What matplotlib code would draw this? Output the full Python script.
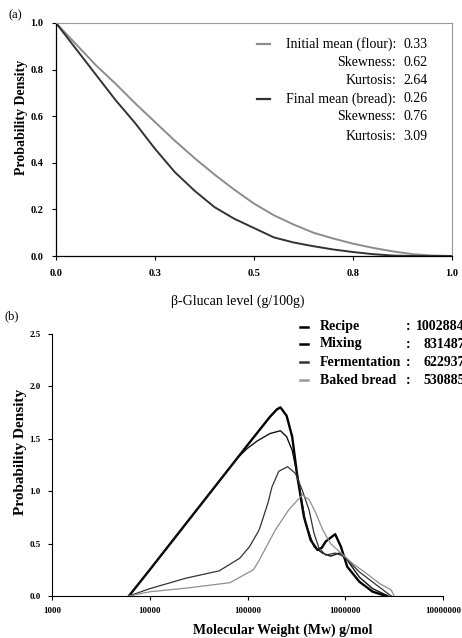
import matplotlib
matplotlib.use("Agg")
import matplotlib.pyplot as plt
from matplotlib.lines import Line2D

plt.rcParams["font.family"] = ["Liberation Serif", "DejaVu Serif"]

# ---- panel (a): beta-glucan level distributions
glucan_x = [0, 0.05, 0.1, 0.15, 0.2, 0.25, 0.3, 0.35, 0.4, 0.45, 0.5,
            0.55, 0.6, 0.65, 0.7, 0.75, 0.8, 0.85, 0.9, 0.95, 1.0]
flour_pd = [1.0, 0.91, 0.82, 0.74, 0.655, 0.575, 0.495, 0.42, 0.35, 0.285, 0.225,
            0.175, 0.135, 0.10, 0.075, 0.053, 0.035, 0.02, 0.008, 0.002, 0.0]
bread_pd = [1.0, 0.89, 0.78, 0.67, 0.57, 0.46, 0.36, 0.28, 0.21, 0.16, 0.12,
            0.08, 0.058, 0.042, 0.028, 0.017, 0.008, 0.002, 0.0, 0.0, 0.0]
glucan_ticks = [0, 0.25, 0.5, 0.75, 1.0]
glucan_ticklabels = ["0.0", "0.3", "0.5", "0.8", "1.0"]
stats_labels = ["Initial mean (flour):", "Skewness:", "Kurtosis:",
                "Final mean (bread):", "Skewness:", "Kurtosis:"]
stats_values = ["0.33", "0.62", "2.64", "0.26", "0.76", "3.09"]

# ---- panel (b): molecular weight distributions (log10 Mw, density)
recipe_logmw = [3.787, 4.0, 4.5, 5.0, 5.23, 5.3, 5.337, 5.4, 5.457, 5.51, 5.577,
                5.646, 5.715, 5.76, 5.80, 5.897, 5.956, 6.02, 6.144, 6.28, 6.42]
recipe_pd = [0, 0.25, 0.845, 1.44, 1.71, 1.78, 1.80, 1.72, 1.52, 1.14, 0.757,
             0.534, 0.44, 0.46, 0.52, 0.59, 0.47, 0.28, 0.137, 0.041, 0]
mixing_logmw = [3.787, 4.0, 4.5, 4.9, 5.0, 5.1, 5.23, 5.337, 5.4, 5.457, 5.52,
                5.595, 5.68, 5.766, 5.85, 5.94, 6.0, 6.144, 6.28, 6.44]
mixing_pd = [0, 0.25, 0.845, 1.32, 1.41, 1.48, 1.55, 1.577, 1.52, 1.39, 1.107,
             0.69, 0.47, 0.41, 0.38, 0.41, 0.37, 0.18, 0.07, 0]
ferm_logmw = [3.787, 4.0, 4.37, 4.71, 4.92, 5.02, 5.113, 5.13, 5.21, 5.25, 5.32,
              5.41, 5.49, 5.56, 5.63, 5.68, 5.73, 5.80, 5.90, 5.99, 6.144, 6.32, 6.47]
ferm_pd = [0, 0.07, 0.17, 0.24, 0.36, 0.47, 0.62, 0.66, 0.89, 1.04, 1.19,
           1.234, 1.17, 1.01, 0.82, 0.60, 0.46, 0.39, 0.41, 0.375, 0.23, 0.105, 0]
baked_logmw = [3.787, 4.0, 4.37, 4.82, 5.06, 5.113, 5.21, 5.285, 5.42, 5.56, 5.63,
               5.70, 5.77, 5.85, 5.956, 6.075, 6.21, 6.35, 6.47, 6.50]
baked_pd = [0, 0.04, 0.075, 0.127, 0.25, 0.33, 0.50, 0.63, 0.82, 0.964, 0.92,
            0.79, 0.63, 0.50, 0.41, 0.31, 0.22, 0.12, 0.057, 0]
stage_names = ["Recipe", "Mixing", "Fermentation", "Baked bread"]
stage_mw = ["1002884", "831487", "622937", "530885"]

W, H = 462, 638
fig = plt.figure(figsize=(W / 100, H / 100), dpi=100)


def fx(px):
    return px / W


def fy(py):
    return 1 - py / H


# ================= panel (a)
ax1 = fig.add_axes([fx(56), fy(256), fx(452) - fx(56), fy(23) - fy(256)])
ax1.plot(glucan_x, flour_pd, color="#8c8c8c", lw=1.4)
ax1.plot(glucan_x, bread_pd, color="#333333", lw=1.4)
ax1.set_xlim(0, 1)
ax1.set_ylim(0, 1)
ax1.set_xticks(glucan_ticks)
ax1.set_xticklabels(glucan_ticklabels)
ax1.set_yticks([0, 0.2, 0.4, 0.6, 0.8, 1.0])
ax1.set_yticklabels(["0.0", "0.2", "0.4", "0.6", "0.8", "1.0"])
ax1.tick_params(direction="out", length=3, width=0.8, labelsize=7.5, pad=6)
for lab in ax1.get_xticklabels() + ax1.get_yticklabels():
    lab.set_fontweight("bold")
for s in ("top", "right"):
    ax1.spines[s].set_color("#999999")
    ax1.spines[s].set_linewidth(0.8)
for s in ("left", "bottom"):
    ax1.spines[s].set_linewidth(0.9)

fig.text(fx(15), fy(15), "(a)", fontsize=9, ha="center", va="center")
fig.text(fx(22), fy(117), "Probability Density", rotation=90, fontsize=10,
         fontweight="bold", ha="center", va="center")
fig.text(fx(238), fy(301), "β-Glucan level (g/100g)", fontsize=10,
         ha="center", va="center")

row_y = [44, 62, 81, 99, 117, 136]
for i, (lab, val) in enumerate(zip(stats_labels, stats_values)):
    fig.text(fx(396), fy(row_y[i]), lab, fontsize=10, ha="right", va="center")
    fig.text(fx(403), fy(row_y[i]), val, fontsize=10, ha="left", va="center")
fig.add_artist(Line2D([fx(257), fx(270)], [fy(44), fy(44)], color="#8c8c8c", lw=1.6))
fig.add_artist(Line2D([fx(257), fx(270)], [fy(99), fy(99)], color="#333333", lw=1.6))

# ================= panel (b)
ax2 = fig.add_axes([fx(52), fy(596), fx(443) - fx(52), fy(334) - fy(596)])
mw = lambda lg: [10 ** v for v in lg]
ax2.plot(mw(recipe_logmw), recipe_pd, color="#000000", lw=1.7)
ax2.plot(mw(mixing_logmw), mixing_pd, color="#111111", lw=1.0)
ax2.plot(mw(ferm_logmw), ferm_pd, color="#333333", lw=0.9)
ax2.plot(mw(baked_logmw), baked_pd, color="#8f8f8f", lw=0.9)
ax2.set_xscale("log")
ax2.set_xlim(1000, 1e7)
ax2.set_ylim(0, 2.5)
ax2.set_xticks([1000, 10000, 100000, 1000000, 10000000])
ax2.set_xticklabels(["1000", "10000", "100000", "1000000", "10000000"])
ax2.minorticks_off()
ax2.set_yticks([0, 0.5, 1.0, 1.5, 2.0, 2.5])
ax2.set_yticklabels(["0.0", "0.5", "1.0", "1.5", "2.0", "2.5"])
ax2.tick_params(direction="out", length=3, width=0.8, labelsize=6.5, pad=5)
for lab in ax2.get_xticklabels() + ax2.get_yticklabels():
    lab.set_fontweight("bold")
ax2.spines["top"].set_visible(False)
ax2.spines["right"].set_visible(False)

fig.text(fx(12), fy(316), "(b)", fontsize=9, ha="center", va="center")
fig.text(fx(21), fy(452), "Probability Density", rotation=90, fontsize=11,
         fontweight="bold", ha="center", va="center")
fig.text(fx(283), fy(630), "Molecular Weight (Mw) g/mol", fontsize=10,
         fontweight="bold", ha="center", va="center")

leg_y = [327, 344, 362, 380]
leg_col = ["#000000", "#000000", "#333333", "#999999"]
for i in range(4):
    fig.add_artist(Line2D([fx(300), fx(308)], [fy(leg_y[i]), fy(leg_y[i])],
                          color=leg_col[i], lw=1.8))
    fig.text(fx(320), fy(leg_y[i]), stage_names[i], fontsize=10,
             fontweight="bold", ha="left", va="center")
    fig.text(fx(408), fy(leg_y[i]), ":", fontsize=10, fontweight="bold",
             ha="center", va="center")
    fig.text(fx(465), fy(leg_y[i]), stage_mw[i], fontsize=10, fontweight="bold",
             ha="right", va="center")

fig.savefig("out.png", dpi=100)
